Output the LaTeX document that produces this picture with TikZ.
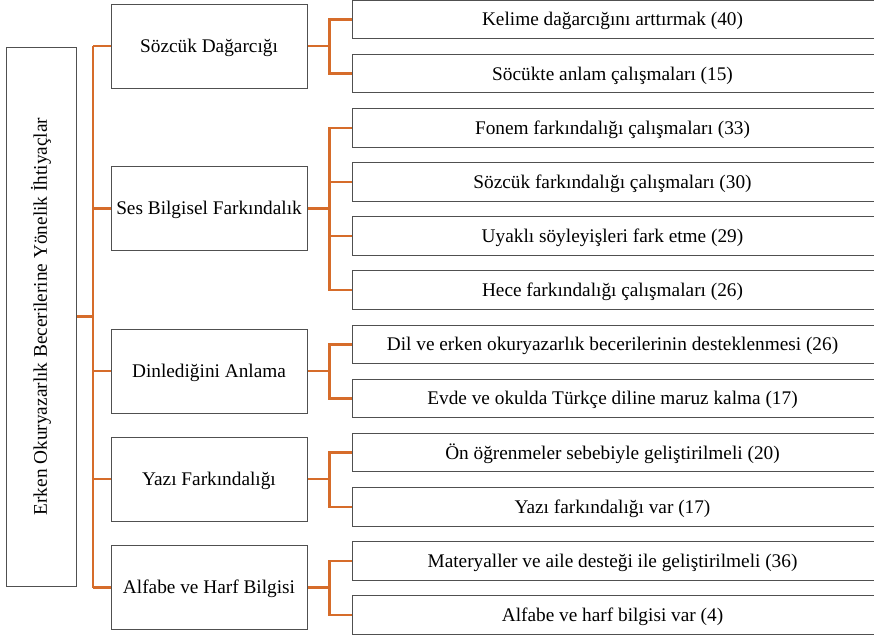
\documentclass[tikz,border=0pt]{standalone}
\usepackage{fontspec}
\setmainfont{Liberation Serif}
\definecolor{branchorange}{RGB}{214,108,42}
\definecolor{boxgray}{RGB}{80,80,80}
\begin{document}
\begin{tikzpicture}[x=1pt, y=-1pt, font=\fontsize{19.3}{22}\selectfont,
  root node/.style={draw=boxgray, line width=1pt, minimum width=70pt, minimum height=539pt, inner sep=0pt},
  main node/.style={draw=boxgray, line width=1pt, minimum width=196pt, minimum height=84pt, inner sep=0pt, text height=12.8pt, text depth=0pt},
  sub node/.style={draw=boxgray, line width=1pt, minimum width=560pt, minimum height=38.5pt, inner sep=0pt, text height=12.8pt, text depth=0pt},
  branch/.style={draw=branchorange, line width=2.5pt}]
\useasboundingbox (0,0) rectangle (874,638);
\begin{scope}
\node[root node] (root) at (41,316.5) {\rotatebox{90}{Erken Okuryazarlık Becerilerine Yönelik İhtiyaçlar}};
\node[main node] (m1) at (209,46) {Sözcük Dağarcığı};
\node[main node] (m2) at (209,208.5) {Ses Bilgisel Farkındalık};
\node[main node] (m3) at (209,371) {Dinlediğini Anlama};
\node[main node] (m4) at (209,479) {Yazı Farkındalığı};
\node[main node] (m5) at (209,587.5) {Alfabe ve Harf Bilgisi};
\end{scope}
% right boxes run past the page edge
\begin{scope}[every node/.style={sub node}]
\node (s1) at (632,19.5) {\hspace*{-39pt}Kelime dağarcığını arttırmak (40)};
\node (s2) at (632,73.6) {\hspace*{-39pt}Söcükte anlam çalışmaları (15)};
\node (s3) at (632,127.8) {\hspace*{-39pt}Fonem farkındalığı çalışmaları (33)};
\node (s4) at (632,181.9) {\hspace*{-39pt}Sözcük farkındalığı çalışmaları (30)};
\node (s5) at (632,236.1) {\hspace*{-39pt}Uyaklı söyleyişleri fark etme (29)};
\node (s6) at (632,290.2) {\hspace*{-39pt}Hece farkındalığı çalışmaları (26)};
\node (s7) at (632,344.4) {\hspace*{-39pt}Dil ve erken okuryazarlık becerilerinin desteklenmesi (26)};
\node (s8) at (632,398.5) {\hspace*{-39pt}Evde ve okulda Türkçe diline maruz kalma (17)};
\node (s9) at (632,452.7) {\hspace*{-39pt}Ön öğrenmeler sebebiyle geliştirilmeli (20)};
\node (s10) at (632,506.8) {\hspace*{-39pt}Yazı farkındalığı var (17)};
\node (s11) at (632,561) {\hspace*{-39pt}Materyaller ve aile desteği ile geliştirilmeli (36)};
\node (s12) at (632,615.1) {\hspace*{-39pt}Alfabe ve harf bilgisi var (4)};
\end{scope}
\coordinate (trunk) at (93,0);
\coordinate (fork) at (329.5,0);
\begin{scope}[branch]
\draw (root.east) -- (root.east -| trunk);
\draw (m1.west -| trunk) -- (m5.west -| trunk);
\draw (m1.west -| trunk) -- (m1.west);
\draw (m2.west -| trunk) -- (m2.west);
\draw (m3.west -| trunk) -- (m3.west);
\draw (m4.west -| trunk) -- (m4.west);
\draw (m5.west -| trunk) -- (m5.west);
%\draw (m.east) -- (m.east -| fork) |- (s.west);
\draw (m1.east) -- (m1.east -| fork) |- (s1.west);
\draw (m1.east -| fork) |- (s2.west);
\draw (m2.east) -- (m2.east -| fork) |- (s3.west);
\draw (m2.east -| fork) |- (s4.west);
\draw (m2.east -| fork) |- (s5.west);
\draw (m2.east -| fork) |- (s6.west);
\draw (m3.east) -- (m3.east -| fork) |- (s7.west);
\draw (m3.east -| fork) |- (s8.west);
\draw (m4.east) -- (m4.east -| fork) |- (s9.west);
\draw (m4.east -| fork) |- (s10.west);
\draw (m5.east) -- (m5.east -| fork) |- (s11.west);
\draw (m5.east -| fork) |- (s12.west);
\end{scope}
\end{tikzpicture}
\end{document}
